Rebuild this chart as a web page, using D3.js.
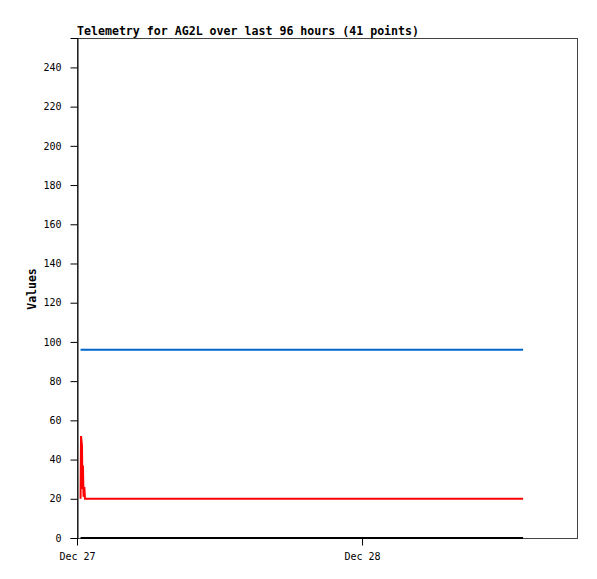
<!DOCTYPE html>
<html>
<head>
<meta charset="utf-8">
<script src="https://cdn.jsdelivr.net/npm/d3@7"></script>
<style>
  body { margin: 0; background: #fff; }
  svg { display: block; }
</style>
</head>
<body>
<svg id="chart"></svg>
<script>
// hours after Dec 27 00:00 for each sample (41 points)
const hours = [0.30, 0.34, 0.42, 0.46, 0.50, 0.55, 0.62, 0.67, 0.72,
  1.8, 3.0, 4.2, 5.4, 6.6, 7.8, 9.0, 10.2, 11.4, 12.6, 13.8, 15.0, 16.2,
  17.4, 18.6, 19.8, 21.0, 22.2, 23.4, 24.6, 25.8, 27.0, 28.2, 29.4, 30.6,
  31.8, 33.0, 34.2, 35.4, 36.4, 37.0, 37.56];

const redValues = [20, 52, 47, 25, 37, 21, 26, 20, 20,
  20, 20, 20, 20, 20, 20, 20, 20, 20, 20, 20, 20, 20,
  20, 20, 20, 20, 20, 20, 20, 20, 20, 20, 20, 20,
  20, 20, 20, 20, 20, 20, 20];

const blueValues = [96, 96, 96, 96, 96, 96, 96, 96, 96,
  96, 96, 96, 96, 96, 96, 96, 96, 96, 96, 96, 96, 96,
  96, 96, 96, 96, 96, 96, 96, 96, 96, 96, 96, 96,
  96, 96, 96, 96, 96, 96, 96];

const blackValues = [0, 0, 0, 0, 0, 0, 0, 0, 0,
  0, 0, 0, 0, 0, 0, 0, 0, 0, 0, 0, 0, 0,
  0, 0, 0, 0, 0, 0, 0, 0, 0, 0, 0, 0,
  0, 0, 0, 0, 0, 0, 0];

const yTicks = [0, 20, 40, 60, 80, 100, 120, 140, 160, 180, 200, 220, 240];
const xTickLabels = ["Dec 27", "Dec 28"];

const start = new Date(2023, 11, 27, 0, 0);
const hourMs = 3600 * 1000;
const times = hours.map((h) => new Date(start.getTime() + h * hourMs));
const xTickDates = [new Date(2023, 11, 27), new Date(2023, 11, 28)];

const width = 597;
const height = 579;
const margin = { top: 38, right: 20, bottom: 41, left: 77 };

const svg = d3.select("#chart").attr("width", width).attr("height", height);

const x = d3
  .scaleTime()
  .domain([start, new Date(start.getTime() + 42.1 * hourMs)])
  .range([margin.left, width - margin.right]);

const y = d3
  .scaleLinear()
  .domain([0, 255])
  .range([height - margin.bottom, margin.top]);

const mono = "'DejaVu Sans Mono', 'Liberation Mono', monospace";

// frame
svg
  .append("rect")
  .attr("x", margin.left + 0.5)
  .attr("y", margin.top + 0.5)
  .attr("width", width - margin.right - margin.left)
  .attr("height", height - margin.bottom - margin.top)
  .attr("fill", "none")
  .attr("stroke", "#444")
  .attr("stroke-width", 1);

// series lines
const series = [
  { values: blueValues, color: "#0066cc" },
  { values: redValues, color: "#ff0000" },
  { values: blackValues, color: "#000000" },
];

series.forEach((s) => {
  const line = d3
    .line()
    .x((d, i) => x(times[i]))
    .y((d) => y(d));
  svg
    .append("path")
    .datum(s.values)
    .attr("d", line)
    .attr("fill", "none")
    .attr("stroke", s.color)
    .attr("stroke-width", 2);
});

// y axis
const yAxis = svg
  .append("g")
  .attr("transform", "translate(" + (margin.left + 0.5) + ",0)")
  .call(d3.axisLeft(y).tickValues(yTicks).tickSize(7).tickPadding(9));
yAxis.select(".domain").attr("stroke", "#000");
yAxis
  .selectAll("text")
  .attr("font-family", mono)
  .attr("font-size", "10px")
  .attr("fill", "#000");

// x axis
const xAxis = svg
  .append("g")
  .attr("transform", "translate(0," + (height - margin.bottom + 0.5) + ")")
  .call(
    d3
      .axisBottom(x)
      .tickValues(xTickDates)
      .tickFormat((d, i) => xTickLabels[i])
      .tickSize(7)
      .tickPadding(7)
  );
xAxis.select(".domain").remove();
xAxis
  .selectAll("text")
  .attr("font-family", mono)
  .attr("font-size", "10px")
  .attr("fill", "#000");

// title
svg
  .append("text")
  .attr("x", margin.left)
  .attr("y", 35)
  .attr("font-family", mono)
  .attr("font-weight", "bold")
  .attr("font-size", "11.6px")
  .text("Telemetry for AG2L over last 96 hours (41 points)");

// y label
svg
  .append("text")
  .attr("transform", "translate(36," + (margin.top + 251) + ") rotate(-90)")
  .attr("text-anchor", "middle")
  .attr("font-family", mono)
  .attr("font-weight", "bold")
  .attr("font-size", "11.5px")
  .text("Values");
</script>
</body>
</html>
